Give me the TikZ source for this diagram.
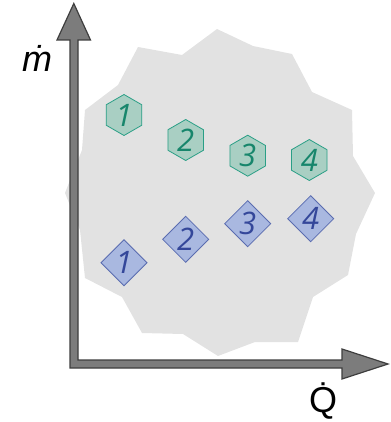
\documentclass[tikz,border=0pt]{standalone}
\usepackage{fontspec}
\setmainfont{Liberation Sans}
\newfontfamily\digitfont{Open Sans}
\usetikzlibrary{shapes.geometric}
\definecolor{blobgray}{HTML}{E2E2E2}
\definecolor{axisfill}{HTML}{7C7C7C}
\definecolor{axisline}{HTML}{3E3E3E}
\definecolor{hexfill}{HTML}{A9CFC3}
\definecolor{hexline}{HTML}{2A9F86}
\definecolor{hextext}{HTML}{17866C}
\definecolor{diafill}{HTML}{A9B8E0}
\definecolor{dialine}{HTML}{5A6CB0}
\definecolor{diatext}{HTML}{34479A}
\tikzset{
  hexbox/.style={regular polygon, regular polygon sides=6, shape border rotate=30,
    minimum size=41pt, inner sep=0pt, outer sep=0pt, fill=hexfill, draw=hexline, line width=0.8pt},
  diabox/.style={diamond, minimum width=46pt, minimum height=46pt, inner sep=0pt, outer sep=0pt,
    fill=diafill, draw=dialine, line width=0.8pt},
  hexnum/.style={font=\digitfont\itshape\fontsize{31}{31}\selectfont, text=hextext, inner sep=0pt},
  dianum/.style={font=\digitfont\itshape\fontsize{31}{31}\selectfont, text=diatext, inner sep=0pt},
  axislabel/.style={inner sep=0pt, text=black}
}
\begin{document}
\begin{tikzpicture}[x=1pt,y=-1pt]
\useasboundingbox (0,0) rectangle (390,422);
% background blob
\fill[blobgray] (217,29) -- (253,46) -- (292,54) -- (312,92) -- (352,110) -- (353,156)
  -- (375,193) -- (356,234) -- (348,275) -- (313,297) -- (298,342) -- (255,342)
  -- (218,356) -- (183,334) -- (142,333) -- (122,297) -- (85,278) -- (80,230)
  -- (65,193) -- (82,150) -- (85,110) -- (118,85) -- (138,47) -- (182,55) -- cycle;
% axes (block arrows)
\filldraw[fill=axisfill, draw=axisline, line width=1.2pt, line join=miter]
  (70,40) -- (70,368) -- (342,368) -- (342,379) -- (388,364) -- (342,349) -- (342,360)
  -- (78,360) -- (78,40) -- (90.5,40) -- (73.8,3.5) -- (57,40) -- cycle;
\node[axislabel, font=\itshape\fontsize{36}{36}\selectfont] (mdot) at (37,58) {ṁ};
\node[axislabel, font=\fontsize{36}{36}\selectfont] (qdot) at (323,401) {Q\char"0307};
% hexagons
\node[hexbox] (h1) at (124,115) {};
\node[hexbox] (h2) at (185.7,140) {};
\node[hexbox] (h3) at (247.7,155.7) {};
\node[hexbox] (h4) at (309.3,160) {};
\node[hexnum] (t1) at (h1) {1};
\node[hexnum] (t2) at (h2) {2};
\node[hexnum] (t3) at (h3) {3};
\node[hexnum] (t4) at (h4) {4};
% diamonds
\node[diabox] (d1) at (124,262.7) {};
\node[diabox] (d2) at (185.7,239.3) {};
\node[diabox] (d3) at (247.7,223.7) {};
\node[diabox] (d4) at (310.7,218.7) {};
\node[dianum] (u1) at (d1) {1};
\node[dianum] (u2) at (d2) {2};
\node[dianum] (u3) at (d3) {3};
\node[dianum] (u4) at (d4) {4};
\end{tikzpicture}
\end{document}
